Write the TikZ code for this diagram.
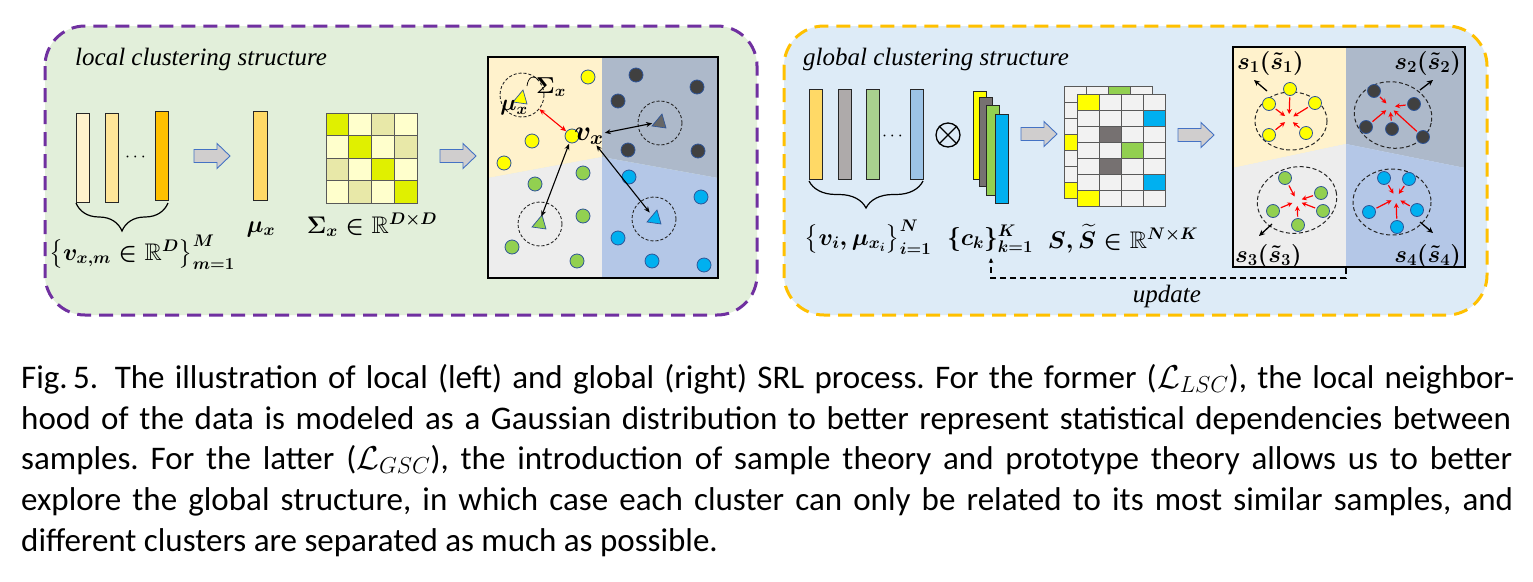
\RequirePackage{fix-cm}
\documentclass[tikz,border=0pt]{standalone}
\usepackage{amsmath,amssymb,bm}
\usepackage{fontspec}
\newfontfamily\capfont{Carlito}
\newfontfamily\ttlfont{Liberation Serif}
\usetikzlibrary{arrows.meta,decorations.pathreplacing,calc}
\definecolor{greenbg}{HTML}{E2EFDA}
\definecolor{bluebg}{HTML}{DDEBF7}
\definecolor{panelpurple}{HTML}{7030A0}
\definecolor{panelorange}{HTML}{FFC000}
\definecolor{arrowfill}{HTML}{D0CECE}
\definecolor{arrowline}{HTML}{4472C4}
\definecolor{regyel}{HTML}{FFF2CC}
\definecolor{regdark}{HTML}{ADB9CA}
\definecolor{reggray}{HTML}{EDEDED}
\definecolor{regblue}{HTML}{B4C7E7}
\definecolor{cyel}{HTML}{FFFF00}
\definecolor{cdark}{HTML}{404040}
\definecolor{cgreen}{HTML}{92D050}
\definecolor{cblue}{HTML}{00B0F0}
\definecolor{dotline}{HTML}{2F5597}
\definecolor{barA}{HTML}{FFF2CC}
\definecolor{barB}{HTML}{FFE699}
\definecolor{barC}{HTML}{FFC000}
\definecolor{barmu}{HTML}{FFD966}
\definecolor{mbright}{HTML}{E0F000}
\definecolor{mlight}{HTML}{FFFFCC}
\definecolor{mmid}{HTML}{E8E8A8}
\definecolor{gbar}{HTML}{AEAAAA}
\definecolor{gnbar}{HTML}{A9D18E}
\definecolor{bbar}{HTML}{9DC3E6}
\definecolor{ckgray}{HTML}{767171}
\definecolor{cellgray}{HTML}{F2F2F2}
\newcommand\blkarrow[2]{\draw[blk] (#1,#2-6.5) -- (#1+23,#2-6.5) -- (#1+23,#2-12.5) -- (#1+36,#2) -- (#1+23,#2+12.5) -- (#1+23,#2+6.5) -- (#1,#2+6.5) -- cycle;}
\newcommand\mytri[3]{\draw[tri, fill=#3] (#1-7,#2+4) -- (#1+7,#2+6) -- (#1+3,#2-8) -- cycle;}
\begin{document}
\frenchspacing
\begin{tikzpicture}[x=1pt,y=-1pt,
  panel/.style={line width=3pt, rounded corners=40pt, dash pattern=on 14pt off 8pt},
  ttl/.style={font=\ttlfont\fontsize{25}{29}\selectfont\itshape, inner sep=0},
  lbl/.style={font=\fontsize{24}{28}\selectfont\boldmath, inner sep=0},
  slbl/.style={font=\fontsize{23}{26}\selectfont\boldmath, inner sep=0},
  bar/.style={draw=black!85, line width=1pt},
  blk/.style={fill=arrowfill, draw=arrowline, line width=0.9pt},
  pdot/.style={circle, minimum size=14pt, inner sep=0, draw=dotline, line width=0.8pt},
  cdot/.style={circle, minimum size=13pt, inner sep=0, draw=dotline, line width=0.8pt},
  dcirc/.style={circle, draw=black!85, dash pattern=on 3pt off 2pt, line width=0.9pt, minimum size=44pt, inner sep=0},
  dell/.style={draw=black!85, dash pattern=on 4pt off 2.5pt, line width=1pt},
  tri/.style={draw=dotline, line width=0.7pt},
  dbl/.style={{Stealth[length=6pt,width=5pt]}-{Stealth[length=6pt,width=5pt]}, line width=1.1pt},
  redar/.style={-{Stealth[length=5pt,width=5pt]}, red, line width=1.2pt, shorten <=1.5pt, shorten >=5pt},
  outar/.style={-{Stealth[length=6pt,width=5.5pt]}, line width=1.3pt},
  cell/.style={draw=black!65, line width=0.8pt},
  capline/.style={anchor=base west, inner sep=0, font=\capfont\fontsize{33}{38}\selectfont},
  updl/.style={-{Stealth[length=5pt,width=4.5pt]}, line width=1.4pt, dash pattern=on 6pt off 4pt}
]
\useasboundingbox (0,0) rectangle (1533,581);
\fill[white] (0,0) rectangle (1533,581);

% ---------------- left panel ----------------
\draw[panel, draw=panelpurple, fill=greenbg] (45,26) rectangle (757,315);
\node[ttl, anchor=base west] (ltitle) at (75,65) {local clustering structure};

\draw[bar, fill=barA] (76,113) rectangle (89,202);
\draw[bar, fill=barB] (105,113) rectangle (118,202);
\draw[bar, fill=barC] (155,111) rectangle (168,200);
\node[font=\fontsize{18}{20}\selectfont, inner sep=0] (ldots) at (137,157) {$\cdots$};
\draw[line width=1.2pt, decorate, decoration={brace, mirror, amplitude=28pt}] (76,203) -- (168,203);
\node[lbl, anchor=base] (vset) at (142,260) {$\big\{\bm{v}_{x,m}\in\mathbb{R}^{D}\big\}_{m=1}^{M}$};

\blkarrow{194}{156}

\draw[bar, fill=barmu] (253,111) rectangle (267,200);
\node[lbl, anchor=base] (mulbl) at (261,232) {$\bm{\mu}_x$};

\foreach \i in {0,...,3}{
  \foreach \j in {0,...,3}{
    \pgfmathtruncatemacro\dd{abs(\i-\j)}
    \ifnum\dd=0 \def\cc{mbright}\else\ifnum\dd=2 \def\cc{mmid}\else\def\cc{mlight}\fi\fi
    \draw[cell, fill=\cc] (326+\j*22.75, 113+\i*22.5) rectangle ++(22.75,22.5);
  }
}
\node[lbl, anchor=base] (siglbl) at (372,233) {$\bm{\Sigma}_x\in\mathbb{R}^{D\times D}$};

\blkarrow{440}{156}

% scatter box
\fill[regyel] (488,57) -- (602,57) -- (602,157) -- (488,178) -- cycle;
\fill[regdark] (602,57) -- (718,57) -- (718,178) -- (602,157) -- cycle;
\fill[reggray] (488,178) -- (602,157) -- (602,278) -- (488,278) -- cycle;
\fill[regblue] (602,157) -- (718,178) -- (718,278) -- (602,278) -- cycle;
\node[draw, line width=2pt, minimum width=230pt, minimum height=221pt, inner sep=0] (sbox) at (603,167.5) {};

\node[dcirc] (cy) at (522,95) {};
\node[dcirc] (cd) at (660,123) {};
\node[dcirc] (cg) at (540,224) {};
\node[dcirc] (cb) at (654,219) {};
\mytri{520}{98}{cyel}
\mytri{659}{122}{cdark!80}
\mytri{539}{223}{cgreen}
\mytri{654}{218}{cblue}
\coordinate (ty) at (520,97);
\coordinate (td) at (659,122);
\coordinate (tg) at (539,223);
\coordinate (tb) at (654,218);

\node[pdot, fill=cyel] (ya) at (588,77) {};
\node[pdot, fill=cyel] (yb) at (532,141) {};
\node[pdot, fill=cyel] (yc) at (504,163) {};
\node[pdot, fill=cyel] (vx) at (572,136) {};
\node[pdot, fill=cdark] (da) at (636,75) {};
\node[pdot, fill=cdark] (db) at (697,87) {};
\node[pdot, fill=cdark] (dc) at (618,101) {};
\node[pdot, fill=cdark] (dd) at (628,150) {};
\node[pdot, fill=cdark] (de) at (698,151) {};
\node[pdot, fill=cgreen] (ga) at (583,173) {};
\node[pdot, fill=cgreen] (gb) at (535,184) {};
\node[pdot, fill=cgreen] (gc) at (583,216) {};
\node[pdot, fill=cgreen] (gd) at (512,247) {};
\node[pdot, fill=cgreen] (ge) at (577,261) {};
\node[pdot, fill=cblue] (ba) at (629,177) {};
\node[pdot, fill=cblue] (bb) at (701,197) {};
\node[pdot, fill=cblue] (bc) at (618,238) {};
\node[pdot, fill=cblue] (bd) at (652,261) {};
\node[pdot, fill=cblue] (be) at (704,265) {};

\node[slbl] (mux) at (514,108) {$\bm{\mu}_x$};
\node[slbl] (sgx) at (551,87) {$\bm{\Sigma}_x$};
\node[font=\fontsize{28}{30}\selectfont\boldmath, inner sep=0] (vxl) at (589,136) {$\bm{v}_x$};
\draw[line width=0.7pt] (527,86) .. controls (528,77) and (534,74) .. (538,80);

\draw[dbl, red] (cy) -- (vx);
\draw[dbl, shorten <=1pt, shorten >=7pt] (vxl) -- (td);
\draw[dbl, shorten <=1pt, shorten >=7pt] (vx) -- (tg);
\draw[dbl, shorten <=1pt, shorten >=7pt] (vxl) -- (tb);

% ---------------- right panel ----------------
\draw[panel, draw=panelorange, fill=bluebg] (784,26) rectangle (1487,315);
\node[ttl, anchor=base west] (gtitle) at (803,65) {global clustering structure};

\draw[bar, fill=barmu] (809,89) rectangle (822,179);
\draw[bar, fill=gbar] (838,89) rectangle (851,179);
\draw[bar, fill=gnbar] (866,89) rectangle (879,179);
\draw[bar, fill=bbar] (910,89) rectangle (923,179);
\node[font=\fontsize{18}{20}\selectfont, inner sep=0] (gdots) at (894,136) {$\cdots$};
\draw[line width=1.2pt, decorate, decoration={brace, mirror, amplitude=27pt}] (809,181) -- (923,181);
\node[lbl, anchor=base] (viset) at (868,245) {$\big\{\bm{v}_i,\bm{\mu}_{x_i}\big\}_{i=1}^{N}$};

\node[circle, draw, line width=1.3pt, minimum size=24pt, inner sep=0] (otimes) at (948,135) {};
\draw[line width=1.3pt] (otimes.north west) -- (otimes.south east);
\draw[line width=1.3pt] (otimes.north east) -- (otimes.south west);

\draw[bar, fill=cyel] (973,91) rectangle (986,179);
\draw[bar, fill=ckgray] (979,97) rectangle (992,186);
\draw[bar, fill=cgreen] (986,105) rectangle (999,195);
\draw[bar, fill=cblue] (995,114) rectangle (1008,203);
\node[lbl, anchor=base] (cklbl) at (990,245) {$\{\bm{c}_k\}_{k=1}^{K}$};
\coordinate (ckin) at (991,258);

\blkarrow{1021}{134}

% matrices S
\foreach \i in {0,...,6}{
  \foreach \j in {0,...,3}{
    \draw[cell, fill=cellgray] (1064+\j*22, 86+\i*16) rectangle ++(22,16);
  }
}
\draw[cell, fill=cgreen] (1064+2*22, 86) rectangle ++(22,16);
\draw[cell, fill=cyel] (1064, 86+3*16) rectangle ++(22,16);
\draw[cell, fill=cyel] (1064, 86+6*16) rectangle ++(22,16);
\foreach \i in {0,...,6}{
  \foreach \j in {0,...,3}{
    \draw[cell, fill=cellgray] (1077+\j*22, 94+\i*16) rectangle ++(22,16);
  }
}
\draw[cell, fill=cyel] (1077, 94) rectangle ++(22,16);
\draw[cell, fill=cblue] (1077+3*22, 94+16) rectangle ++(22,16);
\draw[cell, fill=ckgray] (1077+22, 94+2*16) rectangle ++(22,16);
\draw[cell, fill=cgreen] (1077+2*22, 94+3*16) rectangle ++(22,16);
\draw[cell, fill=ckgray] (1077+22, 94+4*16) rectangle ++(22,16);
\draw[cell, fill=cblue] (1077+3*22, 94+5*16) rectangle ++(22,16);
\draw[cell, fill=cyel] (1077, 94+6*16) rectangle ++(22,16);
\node[lbl, anchor=base] (slbl) at (1123,248) {$\bm{S},\widetilde{\bm{S}}\in\mathbb{R}^{N\times K}$};

\blkarrow{1178}{135}

% cluster box
\fill[regyel] (1233,47) -- (1346,47) -- (1346,144) -- (1233,168) -- cycle;
\fill[regdark] (1346,47) -- (1465,47) -- (1465,168) -- (1346,144) -- cycle;
\fill[reggray] (1233,168) -- (1346,144) -- (1346,267) -- (1233,267) -- cycle;
\fill[regblue] (1346,144) -- (1465,168) -- (1465,267) -- (1346,267) -- cycle;
\node[draw, line width=1.8pt, minimum width=232pt, minimum height=220pt, inner sep=0] (cbox) at (1349,157) {};

\draw[dell] (1291,121) ellipse [x radius=36, y radius=29];
\draw[dell, rotate around={-12:(1393,115)}] (1393,115) ellipse [x radius=39, y radius=33];
\draw[dell, rotate around={12:(1297,200)}] (1297,200) ellipse [x radius=40, y radius=33];
\draw[dell] (1392,202) ellipse [x radius=39, y radius=33];

\coordinate (ky) at (1289,119);
\coordinate (kd) at (1390,107);
\coordinate (kg) at (1297,201);
\coordinate (kb) at (1396,198);

\node[cdot, fill=cyel] (y1) at (1290,89) {};
\node[cdot, fill=cyel] (y2) at (1269,104) {};
\node[cdot, fill=cyel] (y3) at (1315,103) {};
\node[cdot, fill=cyel] (y4) at (1269,135) {};
\node[cdot, fill=cyel] (y5) at (1306,133) {};
\node[cdot, fill=cdark] (d1) at (1374,91) {};
\node[cdot, fill=cdark] (d2) at (1414,104) {};
\node[cdot, fill=cdark] (d3) at (1366,127) {};
\node[cdot, fill=cdark] (d4) at (1392,129) {};
\node[cdot, fill=cdark] (d5) at (1423,137) {};
\node[cdot, fill=cgreen] (g1) at (1285,178) {};
\node[cdot, fill=cgreen] (g2) at (1321,193) {};
\node[cdot, fill=cgreen] (g3) at (1273,211) {};
\node[cdot, fill=cgreen] (g4) at (1323,211) {};
\node[cdot, fill=cgreen] (g5) at (1298,225) {};
\node[cdot, fill=cblue] (b1) at (1384,178) {};
\node[cdot, fill=cblue] (b2) at (1409,179) {};
\node[cdot, fill=cblue] (b3) at (1369,212) {};
\node[cdot, fill=cblue] (b4) at (1417,210) {};
\node[cdot, fill=cblue] (b5) at (1397,227) {};

\foreach \n in {y1,y2,y3,y4,y5} \draw[redar] (\n) -- (ky);
\foreach \n in {d1,d2,d3,d4,d5} \draw[redar] (\n) -- (kd);
\foreach \n in {g1,g2,g3,g4,g5} \draw[redar] (\n) -- (kg);
\foreach \n in {b1,b2,b3,b4,b5} \draw[redar] (\n) -- (kb);

\coordinate (o1s) at (1267,91);  \coordinate (o1e) at (1254,80);
\coordinate (o2s) at (1420,90);  \coordinate (o2e) at (1433,80);
\coordinate (o3s) at (1272,224); \coordinate (o3e) at (1259,236);
\coordinate (o4s) at (1420,222); \coordinate (o4e) at (1433,233);
\draw[outar] (o1s) -- (o1e);
\draw[outar] (o2s) -- (o2e);
\draw[outar] (o3s) -- (o3e);
\draw[outar] (o4s) -- (o4e);

\node[lbl, anchor=base west] (s1l) at (1237,69) {$\bm{s}_1(\tilde{\bm{s}}_1)$};
\node[lbl, anchor=base east] (s2l) at (1461,69) {$\bm{s}_2(\tilde{\bm{s}}_2)$};
\node[lbl, anchor=base west] (s3l) at (1235,262) {$\bm{s}_3(\tilde{\bm{s}}_3)$};
\node[lbl, anchor=base east] (s4l) at (1461,262) {$\bm{s}_4(\tilde{\bm{s}}_4)$};

\coordinate (updstart) at (1346,268);
\coordinate (updcorner) at (1346,278);
\draw[updl] (updstart) -- (updcorner) -| (ckin);
\node[ttl, anchor=base] (updlbl) at (1167,302) {update};

% ---------------- caption ----------------
\node[capline] (cap1) at (21,388) {\makebox[1493pt][s]{Fig.\,5.\hspace{0.5em}The illustration of local (left) and global (right) SRL process. For the former ($\mathcal{L}_{LSC}$), the local neighbor-}};
\node[capline] (cap2) at (21,429) {\makebox[1490pt][s]{hood of the data is modeled as a Gaussian distribution to better represent statistical dependencies between}};
\node[capline] (cap3) at (21,469) {\makebox[1491pt][s]{samples. For the latter ($\mathcal{L}_{GSC}$), the introduction of sample theory and prototype theory allows us to better}};
\node[capline] (cap4) at (21,510) {\makebox[1492pt][s]{explore the global structure, in which case each cluster can only be related to its most similar samples, and}};
\node[capline] (cap5) at (21,551) {different clusters are separated as much as possible.};
\end{tikzpicture}
\end{document}
